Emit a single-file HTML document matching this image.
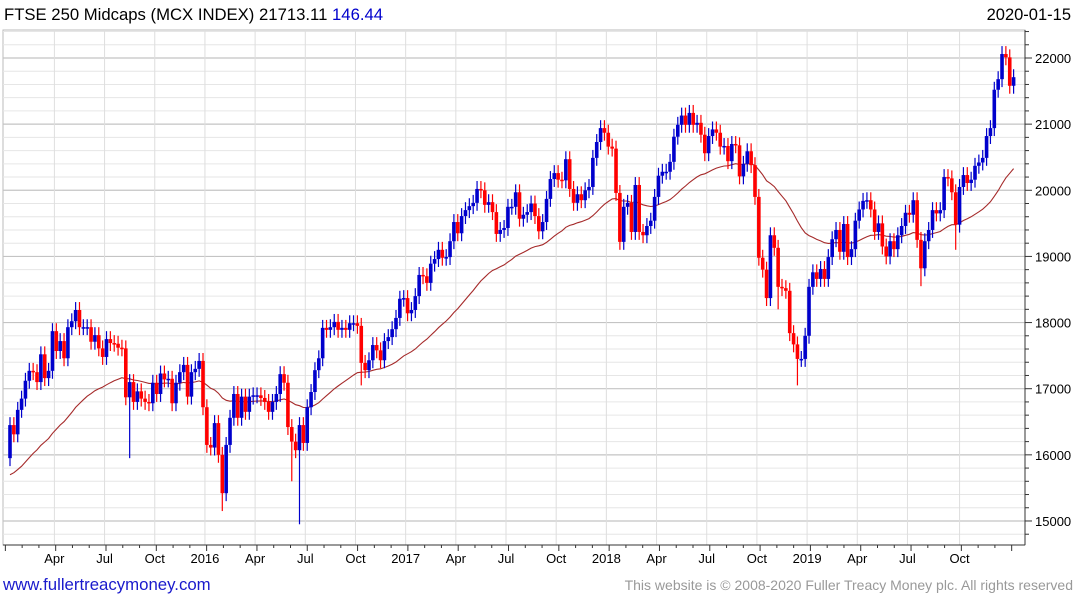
<!DOCTYPE html>
<html><head><meta charset="utf-8"><style>
body{margin:0;background:#fff;font-family:"Liberation Sans",sans-serif}
#wrap{position:relative;width:1075px;height:600px;overflow:hidden}
svg{position:absolute;left:0;top:0}
</style></head><body>
<div id="wrap">
<svg id="c" width="1075" height="600">
<text x="4" y="20" font-size="16.7" fill="#000">FTSE 250 Midcaps (MCX INDEX) 21713.11 <tspan fill="#0000cc">146.44</tspan></text>
<text x="1071" y="20" font-size="16.5" text-anchor="end" fill="#000">2020-01-15</text>
<text x="10" y="45" font-size="14" fill="#2222cc">Weekly</text>
<text x="10" y="65" font-size="14" fill="#b03030">EMA 200</text>
<text x="3" y="590" font-size="16.8" fill="#1a1acc">www.fullertreacymoney.com</text>
<text x="1073" y="590" font-size="14" text-anchor="end" fill="#999">This website is © 2008-2020 Fuller Treacy Money plc. All rights reserved</text>
</svg></div>
<script>
const closes=[16450,16310,16680,16850,17120,17270,17250,17100,17520,17160,17270,17870,17570,17720,17460,17930,18020,18190,17930,17930,17930,17710,17810,17610,17480,17750,17690,17680,17620,17610,16870,17100,16800,16960,16850,16800,16780,17090,16920,17230,17140,17150,16780,17090,17250,17360,16880,17250,17300,17420,16720,16150,16110,16480,16000,15420,16150,16560,16920,16560,16880,16650,16880,16900,16900,16860,16800,16650,16800,16920,17220,17090,16420,16200,16070,16450,16180,16720,16950,17280,17460,17920,17890,17930,18010,17890,
17920,17890,17990,17990,17950,17390,17280,17430,17660,17580,17430,17720,17780,17900,18070,18360,18370,18140,18190,18400,18720,18700,18600,18890,18960,19100,18980,18990,19230,19520,19350,19610,19700,19760,19810,20020,20000,19780,19820,19670,19340,19400,19430,19750,19750,19970,19570,19630,19670,19800,19610,19380,19520,19870,20170,20260,20160,20150,20470,20020,19810,19940,19850,20000,20050,20490,20730,20940,20870,20660,20630,19960,19220,19750,19810,19370,20080,19370,19320,19460,19540,19900,20220,20280,
20280,20430,20810,20990,21130,20990,21170,20990,21020,20840,20560,20820,20920,20870,20660,20670,20440,20700,20680,20210,20400,20590,20380,19900,18980,18800,18370,19320,19130,18540,18520,18480,17840,17670,17450,17450,17800,18540,18760,18660,18810,18660,18990,19260,19400,19070,19490,18990,19110,19540,19710,19840,19850,19710,19370,19500,19150,19000,19230,19110,19320,19460,19660,19630,19850,19250,18820,19230,19400,19700,19650,19700,20200,20180,19970,19480,20050,20230,20110,20160,20370,20420,20490,20820,20940,21520,21680,22060,22010,21580,21710];
const firstOpen=15950;
const emaSeed=15700;
const spikeIdx=[31,55,73,75,91,158,199,204,236,245];
const spikeLow=[15950,15150,15600,14950,17050,19100,18200,17050,18550,19100];
const yTicks=[15000,16000,17000,18000,19000,20000,21000,22000];
const xLabels=["Apr","Jul","Oct","2016","Apr","Jul","Oct","2017","Apr","Jul","Oct","2018","Apr","Jul","Oct","2019","Apr","Jul","Oct"];
const xLabelWeek=[11.5,24.5,37.5,50.5,63.5,76.5,89.5,102.5,115.5,128.5,141.5,154.5,167.5,180.5,193.5,206.5,219.5,232.5,246];

const NS="http://www.w3.org/2000/svg",svg=document.getElementById('c');
const L=3,R=1025,T=30,B=545;
const X=i=>10+i*3.86;
const Y=v=>58+(22000-v)*0.06614;
function mk(t,a,p){const e=document.createElementNS(NS,t);for(const k in a)e.setAttribute(k,a[k]);(p||svg).appendChild(e);return e;}
const g=mk('g',{});


mk('rect',{x:L,y:T,width:R-L,height:B-T,fill:'#fff',stroke:'#bbb'},g);
for(let v=14800;v<=22400;v+=200){const y=Y(v);if(y<T||y>B)continue;const maj=v%1000===0;
 const ln=mk('line',{x1:L,x2:R,y1:y,y2:y,stroke:maj?'#c4c4c4':'#e6e6e6','stroke-width':maj?1.2:1},g);
 
 
 const tk=mk('line',{x1:R,x2:R+(maj?7:4),y1:y,y2:y,stroke:'#333'});
 
 }
yTicks.forEach(v=>{const t=mk('text',{x:1035,y:Y(v)+5,'font-size':13,fill:'#000'});t.textContent=v;
 
 });
xLabels.forEach((s,k)=>{const x=X(xLabelWeek[k]);
 const ln=mk('line',{x1:x,x2:x,y1:T,y2:B,stroke:'#dedede'},g);
 
 
 const t=mk('text',{x:x,y:563,'font-size':13,'text-anchor':'middle',fill:'#000'});t.textContent=s;
 
 });
for(let m=0;m<61;m++){const x=X(-1.2+m*4.345);if(x<L||x>R)continue;
 const tk=mk('line',{x1:x,x2:x,y1:B,y2:B+(m%3===0?6:3),stroke:'#333'});
 
 }
mk('line',{x1:R,x2:R,y1:T,y2:B,stroke:'#333'});
mk('line',{x1:L,x2:R,y1:B,y2:B,stroke:'#333'});
// EMA
let e=emaSeed,pts=[];const a=2/41;
closes.forEach((c,i)=>{e=i===0?emaSeed:e+a*(c-e);pts.push(X(i).toFixed(1)+','+Y(e).toFixed(1));});
const ema=mk('polyline',{points:pts.join(' '),fill:'none',stroke:'#a52a2a','stroke-width':1.1},g);


// candles
closes.forEach((c,i)=>{const o=i===0?firstOpen:closes[i-1];
 let hi=Math.max(o,c)+120,lo=Math.min(o,c)-120;const si=spikeIdx.indexOf(i);if(si>=0)lo=Math.min(lo,spikeLow[si]);
 const col=c>=o?'#0000cc':'#ff0000',x=X(i);
 const cg=mk('g',{},g);
 
 
 mk('line',{x1:x,x2:x,y1:Y(hi),y2:Y(lo),stroke:col,'stroke-width':1.2},cg);
 const yt=Y(Math.max(o,c)),yb=Y(Math.min(o,c));
 mk('rect',{x:x-1.8,y:yt,width:3.6,height:Math.max(1.5,yb-yt),fill:col},cg);
});
</script></body></html>
